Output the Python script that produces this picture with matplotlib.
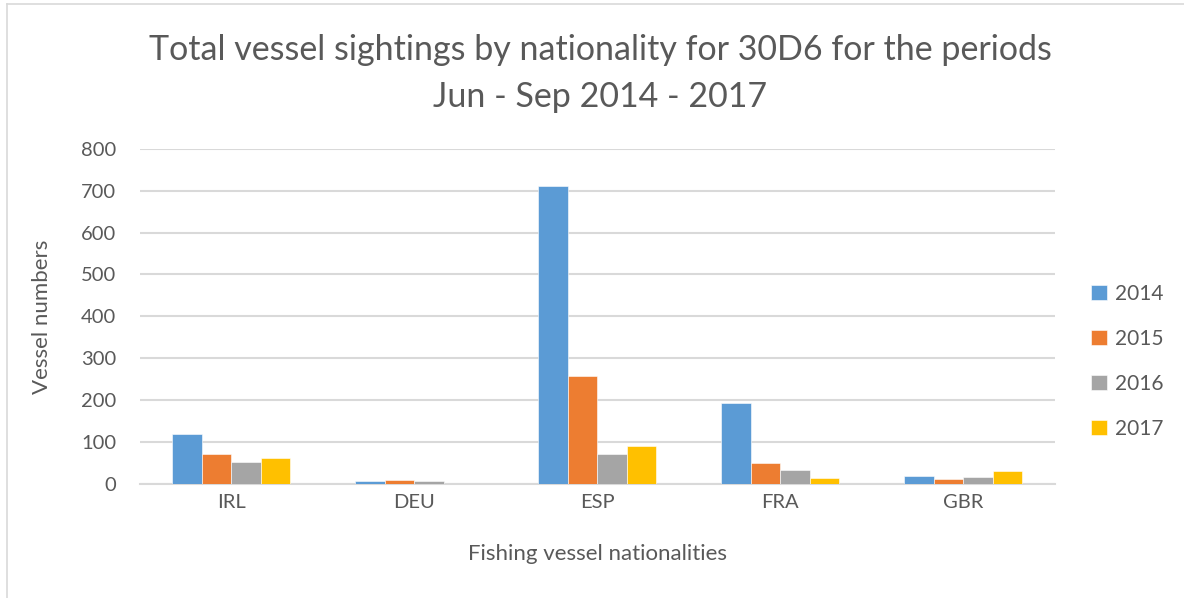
import matplotlib.pyplot as plt
import numpy as np
from matplotlib.lines import Line2D

plt.rcParams['font.family'] = ['Lato', 'DejaVu Sans']

# sightings per nationality, one list per year
nations = ['IRL', 'DEU', 'ESP', 'FRA', 'GBR']
years = ['2014', '2015', '2016', '2017']
y2014 = [119, 7, 712, 193, 18]
y2015 = [71, 9, 258, 50, 12]
y2016 = [52, 7, 70, 34, 16]
y2017 = [61, 0, 90, 14, 31]
yticks = [0, 100, 200, 300, 400, 500, 600, 700, 800]

colors = ['#5B9BD5', '#ED7D31', '#A5A5A5', '#FFC000']
text_col = '#595959'
grid_col = '#D9D9D9'

fig = plt.figure(figsize=(11.84, 5.98), dpi=100)
ax = fig.add_axes([0.118, 0.191, 0.773, 0.560])

x = np.arange(len(nations))
w = 0.161
for i, (vals, yr) in enumerate(zip([y2014, y2015, y2016, y2017], years)):
    ax.bar(x + (i - 1.5) * w, vals, width=w, color=colors[i], label=yr,
           edgecolor='white', linewidth=0.4, zorder=3)

ax.set_xlim(-0.5, len(nations) - 0.5)
ax.set_ylim(0, 800)
ax.set_yticks(yticks)
ax.set_xticks(x)
ax.set_xticklabels(nations)
ax.yaxis.grid(True, color=grid_col, linewidth=1.5, zorder=0)
for s in ['top', 'right', 'left']:
    ax.spines[s].set_visible(False)
ax.spines['bottom'].set_color(grid_col)
ax.spines['bottom'].set_linewidth(1.5)
ax.tick_params(axis='both', length=0, labelsize=14.5, colors=text_col)
ax.tick_params(axis='x', pad=7)
ax.tick_params(axis='y', pad=17)

ax.set_xlabel('Fishing vessel nationalities', fontsize=16, color=text_col, labelpad=24)
ax.set_ylabel('Vessel numbers', fontsize=16, color=text_col, labelpad=21)

fig.text(0.507, 0.877, 'Total vessel sightings by nationality for 30D6 for the periods\nJun - Sep 2014 - 2017',
         ha='center', va='center', fontsize=24.5, color=text_col, linespacing=1.55)

fig.legend(loc='center left', bbox_to_anchor=(0.906, 0.396), frameon=False,
           fontsize=15, labelcolor=text_col, handlelength=0.75, handleheight=0.75,
           handletextpad=0.4, labelspacing=1.2)

# thin frame along the top and left edges
fig.add_artist(Line2D([0.006, 1.0], [0.993, 0.993], color=grid_col, linewidth=1.2))
fig.add_artist(Line2D([0.006, 0.006], [0.0, 0.993], color=grid_col, linewidth=1.2))

fig.savefig('out.png', dpi=100)
